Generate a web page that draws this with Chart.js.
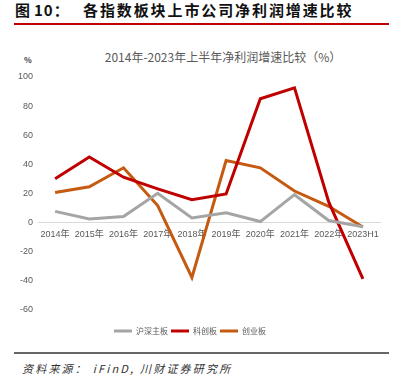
<!DOCTYPE html>
<html>
<head>
<meta charset="utf-8">
<script src="https://cdn.jsdelivr.net/npm/chart.js@4.4.1/dist/chart.umd.min.js"></script>
<style>
  html, body { margin: 0; padding: 0; background: #fff; }
  body { width: 401px; height: 388px; position: relative; overflow: hidden; font-family: "Noto Sans CJK SC", "Noto Sans", sans-serif; }
  .abs { position: absolute; white-space: nowrap; }
  .hdr { top: 2px; font-size: 15px; line-height: 16px; font-weight: bold; color: #111; }
  #hdr-a { left: 15px; }
  #hdr-b { left: 34px; letter-spacing: 1px; }
  #hdr-c { left: 83px; letter-spacing: 1.9px; }
  #rule-top { left: 14px; top: 23px; width: 375px; height: 1.5px; background: #c00000; }
  #title { left: 0; width: 446px; text-align: center; top: 49px; font-size: 12px; line-height: 16px; color: #595959; }
  #unit { left: 24px; top: 55px; font-size: 8px; line-height: 10px; font-weight: bold; color: #404040; }
  #box { left: 0; top: 62px; width: 401px; height: 285px; }
  #rule-bot { left: 14px; top: 352px; width: 375px; height: 1.5px; background: #666; }
  #src { left: 22px; top: 360px; font-size: 11px; line-height: 16px; font-style: italic; color: #333; letter-spacing: 2.2px; }
</style>
</head>
<body>
<div class="abs hdr" id="hdr-a">图</div>
<div class="abs hdr" id="hdr-b">10：</div>
<div class="abs hdr" id="hdr-c">各指数板块上市公司净利润增速比较</div>
<div class="abs" id="rule-top"></div>
<div class="abs" id="title">2014年-2023年上半年净利润增速比较（%）</div>
<div class="abs" id="unit">%</div>
<div class="abs" id="box"><canvas id="chart"></canvas></div>
<div class="abs" id="rule-bot"></div>
<div class="abs" id="src">资料来源： iFinD, 川财证券研究所</div>

<script>
  const years = ["2014年", "2015年", "2016年", "2017年", "2018年", "2019年", "2020年", "2021年", "2022年", "2023H1"];
  const mainBoard = [7.5, 2.3, 4, 20, 3, 6.5, 0.5, 19, 1.2, -3];
  const starBoard = [30, 45, 31, 23, 15.5, 19.5, 85, 92.5, 14, -39];
  const chinext = [20.5, 24.5, 37.5, 11.5, -38, 42.5, 37.5, 21.5, 11, -3.3];
  const yTicks = [-60, -40, -20, 0, 20, 40, 60, 80, 100];

  const tickFont = { family: "'Liberation Sans Narrow', 'Liberation Sans', 'Noto Sans CJK SC'", size: 9 };

  function series(label, data, color) {
    return {
      label,
      data,
      borderColor: color,
      backgroundColor: color,
      borderWidth: 3,
      pointRadius: 0,
      tension: 0,
      fill: false
    };
  }

  new Chart(document.getElementById("chart"), {
    type: "line",
    data: {
      labels: years,
      datasets: [
        series("沪深主板", mainBoard, "#a5a5a5"),
        series("科创板", starBoard, "#c00000"),
        series("创业板", chinext, "#c55a11")
      ]
    },
    options: {
      responsive: true,
      maintainAspectRatio: false,
      animation: false,
      layout: { padding: { top: 15, right: 21, left: 0, bottom: 2 } },
      plugins: {
        title: { display: false },
        tooltip: { enabled: false },
        legend: {
          position: "bottom",
          labels: {
            usePointStyle: true,
            pointStyle: "line",
            pointStyleWidth: 18,
            padding: 3,
            color: "#595959",
            font: { family: "'Noto Sans CJK SC'", size: 8 }
          }
        }
      },
      scales: {
        x: {
          position: { y: 0 },
          offset: true,
          grid: { display: false, drawTicks: false },
          border: { display: true, color: "#d9d9d9", width: 1 },
          ticks: { color: "#595959", font: tickFont, padding: 7, maxRotation: 0, autoSkip: false }
        },
        y: {
          min: -70,
          max: 100,
          grid: { display: false, drawTicks: false },
          border: { display: false },
          ticks: { color: "#595959", font: tickFont, padding: 5 },
          afterBuildTicks: scale => { scale.ticks = yTicks.map(v => ({ value: v })); },
          afterFit: scale => { scale.width = 38; }
        }
      }
    }
  });
</script>
</body>
</html>
